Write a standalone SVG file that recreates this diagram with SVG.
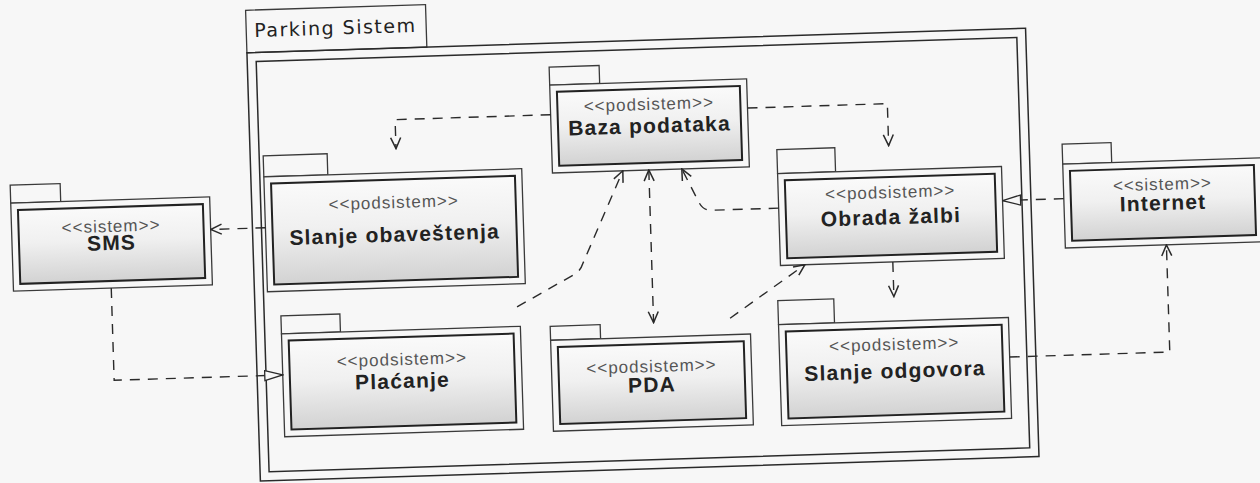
<svg xmlns="http://www.w3.org/2000/svg" width="1260" height="483" viewBox="0 0 1260 483">
<defs>
<linearGradient id="shade" x1="0" y1="0" x2="0" y2="1">
<stop offset="0" stop-color="#fafafa"/>
<stop offset="0.45" stop-color="#f0f0f0"/>
<stop offset="1" stop-color="#d2d2d2"/>
</linearGradient>
<marker id="open" markerUnits="userSpaceOnUse" viewBox="0 0 13 12" refX="12" refY="6" markerWidth="13" markerHeight="12" orient="auto-start-reverse">
<path d="M1,1 L12,6 L1,11" fill="none" stroke="#2a2a2a" stroke-width="1.5"/>
</marker>
<marker id="tri" markerUnits="userSpaceOnUse" viewBox="0 0 20 12" refX="19" refY="6" markerWidth="20" markerHeight="12" orient="auto">
<path d="M1,1 L19,6 L1,11 Z" fill="#f7f7f7" stroke="#2a2a2a" stroke-width="1.3"/>
</marker>
<style>
.tab,.body{fill:#f7f7f7;stroke:#3a3a3a;stroke-width:1.3}
.inner{fill:url(#shade);stroke:#222;stroke-width:2}
.frame{fill:none;stroke:#2a2a2a;stroke-width:1.5}
.st{font-family:"Liberation Sans",Arial,sans-serif;font-size:17px;fill:#555;text-anchor:middle;letter-spacing:1px}
.nm{font-family:"Liberation Sans",Arial,sans-serif;font-size:21px;font-weight:bold;fill:#222;text-anchor:middle;letter-spacing:1.2px}
.dep{fill:none;stroke:#2a2a2a;stroke-width:1.4;stroke-dasharray:10 8}
</style>
</defs>
<rect x="0" y="0" width="1260" height="483" fill="#f7f7f7"/>
<g transform="rotate(-1.8 640 240)">
<g id="parking-sistem">
<rect class="tab" x="253" y="-2" width="180" height="42.5"/>
<rect class="frame" x="253" y="40.5" width="779" height="428.5"/>
<rect class="frame" x="262" y="49.5" width="761" height="410.5"/>
<text x="261" y="25" font-family="DejaVu Sans, sans-serif" font-size="19" letter-spacing="1.5" fill="#222">Parking Sistem</text>
</g>
<g id="sms">
<rect class="tab" x="12.2" y="165.4" width="50" height="18"/>
<rect class="body" x="12.2" y="183.4" width="199" height="88"/>
<rect class="inner" x="19.2" y="190.4" width="185" height="74"/>
<text class="st" x="111.7" y="215.4">&lt;&lt;sistem&gt;&gt;</text>
<text class="nm" x="111.7" y="233.4">SMS</text>
</g>
<g id="slanje-obavestenja">
<rect class="tab" x="266" y="144" width="64" height="21"/>
<rect class="body" x="266" y="165" width="258" height="115"/>
<rect class="inner" x="273" y="172" width="244" height="101"/>
<text class="st" x="395" y="200.4">&lt;&lt;podsistem&gt;&gt;</text>
<text class="nm" x="395" y="234">Slanje obaveštenja</text>
</g>
<g id="baza-podataka">
<rect class="tab" x="554.6" y="64.3" width="50" height="18"/>
<rect class="body" x="554.6" y="82.3" width="197" height="88"/>
<rect class="inner" x="561.6" y="89.3" width="183" height="74"/>
<text class="st" x="653.1" y="110.3">&lt;&lt;podsistem&gt;&gt;</text>
<text class="nm" x="653.1" y="133.3">Baza podataka</text>
</g>
<g id="obrada-zalbi">
<rect class="tab" x="779.6" y="153.9" width="58" height="24"/>
<rect class="body" x="779.6" y="177.9" width="224" height="92"/>
<rect class="inner" x="786.6" y="184.9" width="210" height="78"/>
<text class="st" x="891.6" y="205.9">&lt;&lt;podsistem&gt;&gt;</text>
<text class="nm" x="891.6" y="232.2">Obrada žalbi</text>
</g>
<g id="slanje-odgovora">
<rect class="tab" x="775.8" y="305" width="56" height="24"/>
<rect class="body" x="775.8" y="329" width="230" height="101"/>
<rect class="inner" x="782.8" y="336" width="216" height="87"/>
<text class="st" x="890.8" y="358">&lt;&lt;podsistem&gt;&gt;</text>
<text class="nm" x="890.8" y="386">Slanje odgovora</text>
</g>
<g id="internet">
<rect class="tab" x="1064.9" y="157.4" width="49" height="20"/>
<rect class="body" x="1064.9" y="177.4" width="198" height="84"/>
<rect class="inner" x="1071.9" y="184.4" width="184" height="70"/>
<text class="st" x="1163.9" y="206.4">&lt;&lt;sistem&gt;&gt;</text>
<text class="nm" x="1163.9" y="226.5">Internet</text>
</g>
<g id="placanje">
<rect class="tab" x="278.7" y="304.5" width="59" height="18"/>
<rect class="body" x="278.7" y="322.5" width="239" height="103"/>
<rect class="inner" x="285.7" y="329.5" width="225" height="89"/>
<text class="st" x="398.2" y="357.6">&lt;&lt;podsistem&gt;&gt;</text>
<text class="nm" x="398.2" y="380.6">Plaćanje</text>
</g>
<g id="pda">
<rect class="tab" x="547.5" y="323.4" width="50" height="14"/>
<rect class="body" x="547.5" y="337.4" width="200" height="91"/>
<rect class="inner" x="554.5" y="344.4" width="186" height="77"/>
<text class="st" x="647.5" y="372.4">&lt;&lt;podsistem&gt;&gt;</text>
<text class="nm" x="647.5" y="392.4">PDA</text>
</g>
<g id="connectors">
<path class="dep" d="M1064.9,212 H1003.6" marker-end="url(#tri)"/>
<path class="dep" d="M1005.8,368.6 H1166 V261.4" marker-end="url(#open)"/>
<path class="dep" d="M892,269.9 V304.5" marker-end="url(#open)"/>
<path class="dep" d="M751.6,111.5 H891.5 V153.5" marker-end="url(#open)"/>
<path class="dep" d="M554.6,112 H399 V141" marker-end="url(#open)"/>
<path class="dep" d="M266,216 H211.2" marker-end="url(#open)"/>
<path class="dep" d="M110,271.4 V363.7 H278.7" marker-end="url(#tri)"/>
<path class="dep" d="M515,303 L574,272 Q580,268 582,262 L625,170.3" marker-end="url(#open)"/>
<path class="dep" d="M651,170.3 V323" marker-start="url(#open)" marker-end="url(#open)"/>
<path class="dep" d="M779.6,212.5 H712 Q704,212.5 700,204 L684,170.3" marker-end="url(#open)"/>
<path class="dep" d="M727.6,321 L804,269.9" marker-end="url(#open)"/>
</g>
</g>
</svg>
